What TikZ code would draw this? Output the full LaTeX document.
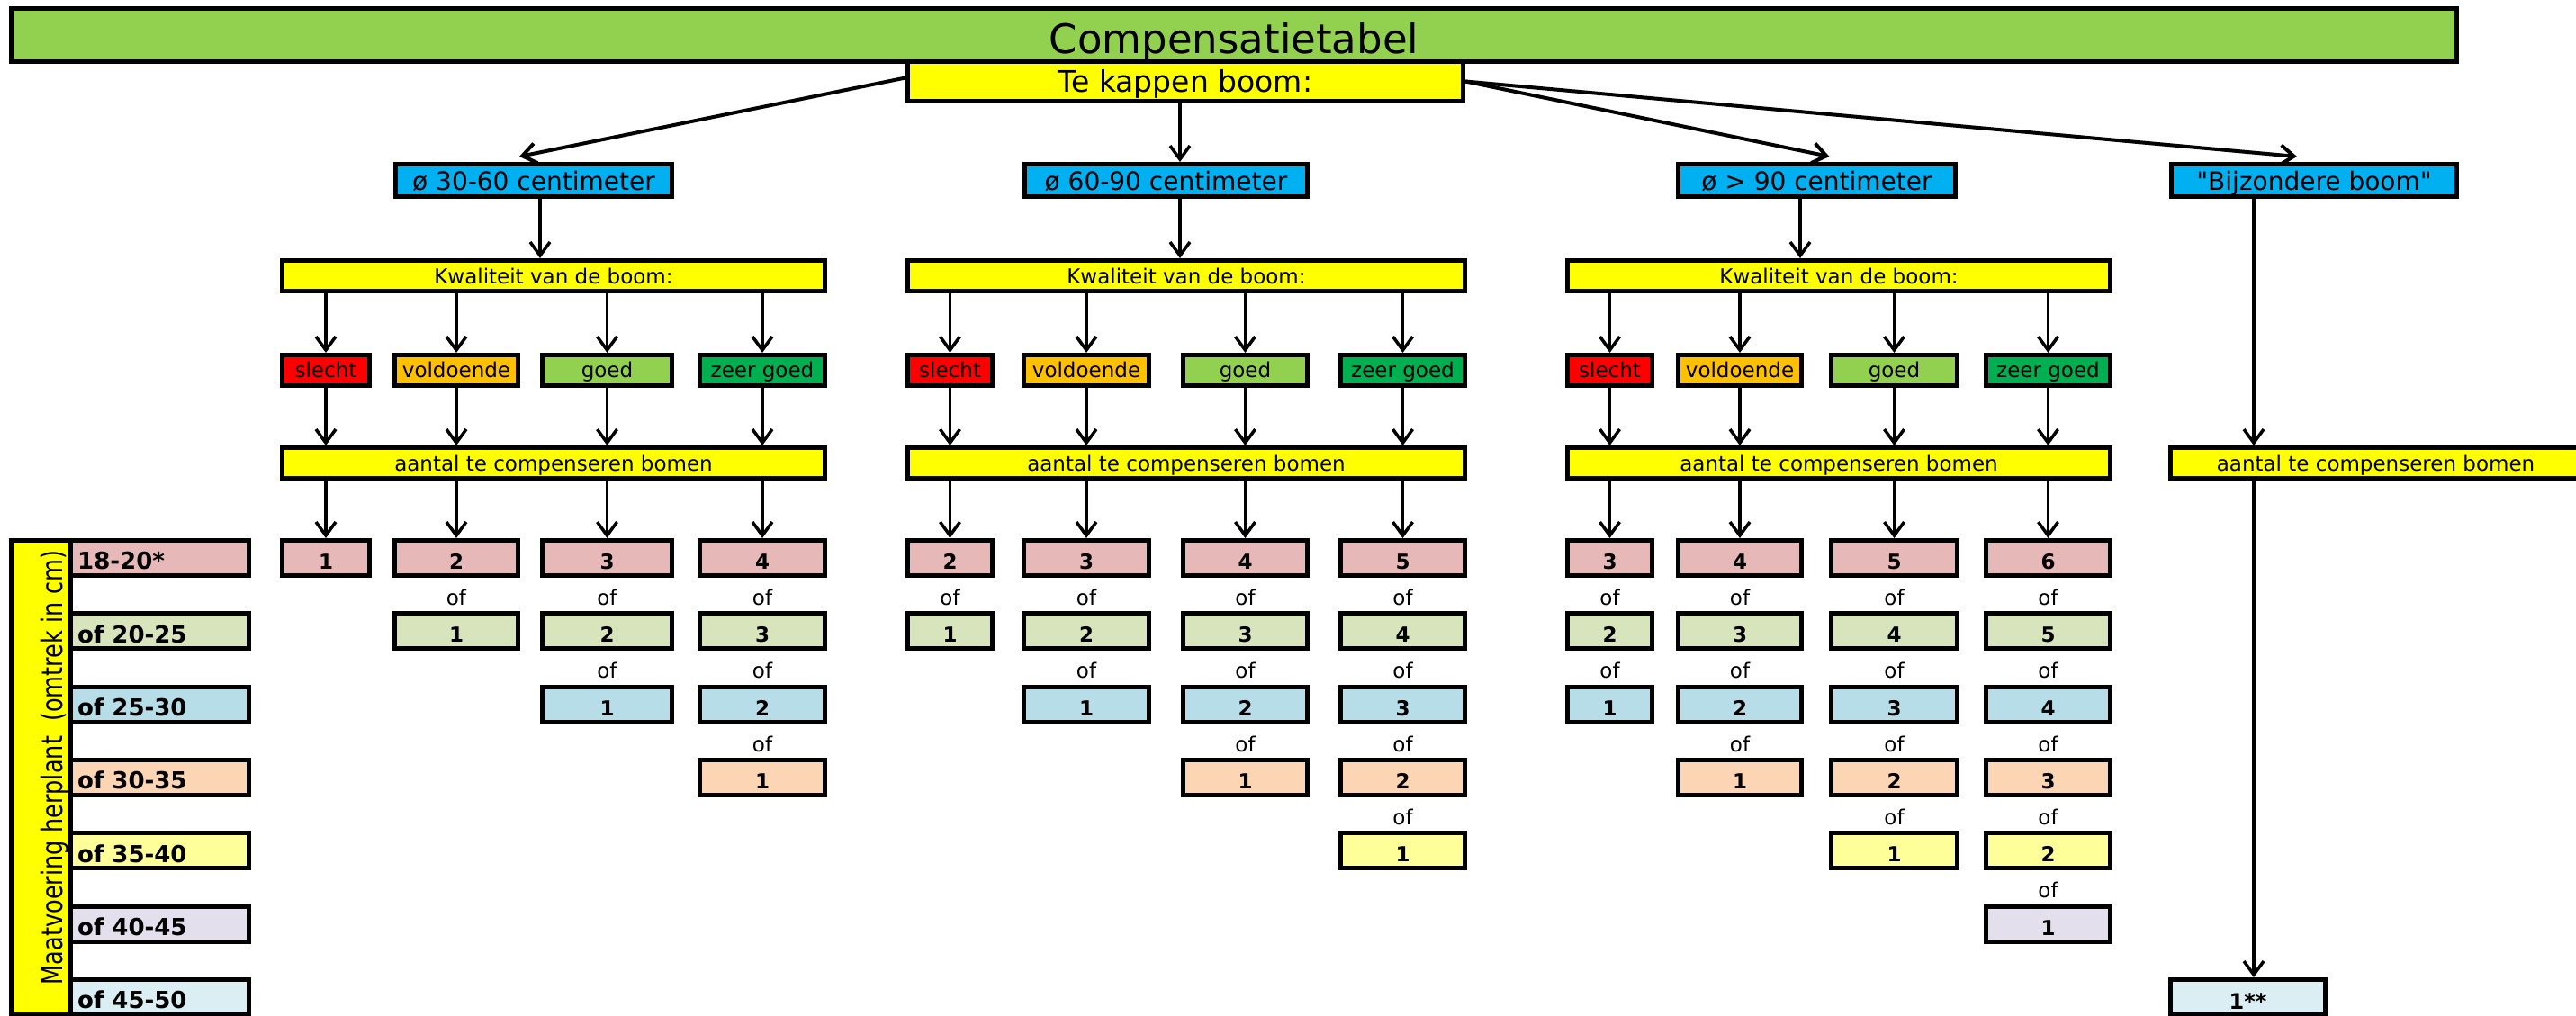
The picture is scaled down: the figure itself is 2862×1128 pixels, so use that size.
\documentclass[tikz,border=0pt]{standalone}
\usepackage{fontspec}
\setmainfont{DejaVu Sans}
\newfontfamily\plainfont{DejaVu Sans}
\usepackage{graphicx}
\usetikzlibrary{arrows.meta,calc}
\definecolor{titlegreen}{HTML}{92D050}
\definecolor{yel}{HTML}{FFFF00}
\definecolor{blu}{HTML}{00B0F0}
\definecolor{qred}{HTML}{FF0000}
\definecolor{qorange}{HTML}{FFC000}
\definecolor{qgreen}{HTML}{92D050}
\definecolor{qdark}{HTML}{00B050}
\definecolor{row1}{HTML}{E6B8B7}
\definecolor{row2}{HTML}{D8E4BC}
\definecolor{row3}{HTML}{B7DEE8}
\definecolor{row4}{HTML}{FCD5B4}
\definecolor{row5}{HTML}{FFFF99}
\definecolor{row6}{HTML}{E4DFEC}
\definecolor{row7}{HTML}{DAEEF3}
\newcommand{\fz}[1]{\fontsize{#1}{#1}\selectfont}
\newcommand{\bx}[7]{%
  \pgfmathsetmacro{\bxcx}{(#2+#4)/2}%
  \pgfmathsetmacro{\bxcy}{(#3+#5)/2}%
  \pgfmathsetmacro{\bxw}{#4-#2-5}%
  \pgfmathsetmacro{\bxh}{#5-#3-5}%
  \node[box,#6,minimum width=\bxw pt,minimum height=\bxh pt] (#1) at (\bxcx,\bxcy) {#7};}
\begin{document}
\begin{tikzpicture}[x=1pt,y=-1pt,
  box/.style={draw=black,line width=5pt,inner sep=0pt,rectangle},
  basel/.style={text height=#1,text depth=0pt},
  arr/.style={draw=black,line width=3.5pt,-{Straight Barb[length=15pt,width=22pt]}},
  tarr/.style={arr,line width=4pt},
  oflab/.style={inner sep=0pt,font=\fz{23}}]
\useasboundingbox (0,0) rectangle (2862,1128);

% title and top level
\bx{title}{10}{7}{2732}{71}{fill=titlegreen,font=\fz{45},basel=40pt}{Compensatietabel}
\bx{tk}{1006}{66}{1628}{115}{fill=yel,font=\fz{33},basel=23pt}{Te kappen boom:}

\bx{b1}{437}{180}{749}{221}{fill=blu,font=\fz{28},basel=21pt}{ø 30-60 centimeter}
\bx{b2}{1136}{180}{1455}{221}{fill=blu,font=\fz{28},basel=21pt}{ø 60-90 centimeter}
\bx{b3}{1862}{180}{2175}{221}{fill=blu,font=\fz{28},basel=21pt}{ø > 90 centimeter}
\bx{b4}{2410}{180}{2732}{221}{fill=blu,font=\fz{28}\plainfont,basel=21pt}{"Bijzondere boom"}

\bx{kw1}{311}{287}{919}{326}{fill=yel,font=\fz{23},basel=17pt}{Kwaliteit van de boom:}
\bx{kw2}{1006}{287}{1630}{326}{fill=yel,font=\fz{23},basel=17pt}{Kwaliteit van de boom:}
\bx{kw3}{1739}{287}{2347}{326}{fill=yel,font=\fz{23},basel=17pt}{Kwaliteit van de boom:}

\bx{aa1}{311}{495}{919}{534}{fill=yel,font=\fz{23},basel=17pt}{aantal te compenseren bomen}
\bx{aa2}{1006}{495}{1630}{534}{fill=yel,font=\fz{23},basel=17pt}{aantal te compenseren bomen}
\bx{aa3}{1739}{495}{2347}{534}{fill=yel,font=\fz{23},basel=17pt}{aantal te compenseren bomen}
\bx{aa4}{2409}{495}{2870}{534}{fill=yel,font=\fz{23},basel=17pt}{aantal te compenseren bomen}

\bx{bz}{2409}{1086}{2586}{1130}{fill=row7,font=\fz{24}\bfseries,basel=26pt}{1**}

% top arrows
\coordinate (v1) at (600,0);
\coordinate (v2) at (1311,0);
\coordinate (v3) at (2000,0);
\coordinate (v4) at (2504,0);
\draw[tarr] ($(tk.west)+(0,-4)$) -- ($(b1.north)+(-16,-6)$);
\draw[arr] (tk.south -| v2) -- (b2.north -| v2);
\draw[tarr] (tk.east) -- ($(b3.north)+(14,-6)$);
\draw[tarr] (tk.east) -- ($(b4.north)+(-19,-6)$);
\draw[arr] (b1.south -| v1) -- (kw1.north -| v1);
\draw[arr] (b2.south -| v2) -- (kw2.north -| v2);
\draw[arr] (b3.south -| v3) -- (kw3.north -| v3);
\draw[arr] (b4.south -| v4) -- (aa4.north -| v4);
\draw[arr] (aa4.south -| v4) -- (bz.north -| v4);

% quality columns with their numbers
\foreach \g/\c/\xl/\xr/\ql/\qc in {
  1/1/311/413/slecht/qred, 1/2/436/578/voldoende/qorange, 1/3/600/749/goed/qgreen, 1/4/775/919/{zeer goed}/qdark,
  2/1/1006/1105/slecht/qred, 2/2/1135/1279/voldoende/qorange, 2/3/1312/1455/goed/qgreen, 2/4/1487/1630/{zeer goed}/qdark,
  3/1/1739/1838/slecht/qred, 3/2/1862/2004/voldoende/qorange, 3/3/2032/2177/goed/qgreen, 3/4/2204/2347/{zeer goed}/qdark}{
  \bx{q\g\c}{\xl}{392}{\xr}{431}{fill=\qc,font=\fz{23},basel=15pt}{\ql}
  \draw[arr] (q\g\c.north |- kw\g.south) -- (q\g\c.north);
  \draw[arr] (q\g\c.south) -- (q\g\c.south |- aa\g.north);
  \pgfmathtruncatemacro{\nmax}{\g+\c-1}
  \foreach \r in {1,...,\nmax}{
    \pgfmathsetmacro{\ytop}{598+81.33*(\r-1)}
    \pgfmathsetmacro{\ybot}{\ytop+44}
    \pgfmathtruncatemacro{\val}{\nmax-\r+1}
    \bx{n\g\c\r}{\xl}{\ytop}{\xr}{\ybot}{fill=row\r,font=\fz{23}\bfseries,basel=25pt}{\val}
    \ifnum\r<\nmax
      \node[oflab] (of\g\c\r) at ($(n\g\c\r.south)+(0,22)$) {of};
    \fi
  }
  \draw[arr] (q\g\c.south |- aa\g.south) -- (n\g\c1.north);
}

% left legend
\bx{mbar}{10}{598}{81}{1130}{fill=yel}{}
\node[rotate=90,inner sep=0pt,font=\fz{32}] (mbt) at (61,853) {\scalebox{0.8}[1]{Maatvoering herplant\ \ (omtrek in cm)}};
\foreach \r/\t in {1/18-20*,2/of 20-25,3/of 25-30,4/of 30-35,5/of 35-40,6/of 40-45,7/of 45-50}{
  \pgfmathsetmacro{\ytop}{598+81.33*(\r-1)}
  \pgfmathsetmacro{\ybot}{\ytop+44}
  \bx{lab\r}{76}{\ytop}{279}{\ybot}{fill=row\r}{}
  \node[anchor=west,inner sep=0pt,font=\fz{26}\bfseries] (labt\r) at ($(lab\r.west)+(10,3)$) {\t};
}
\end{tikzpicture}
\end{document}
